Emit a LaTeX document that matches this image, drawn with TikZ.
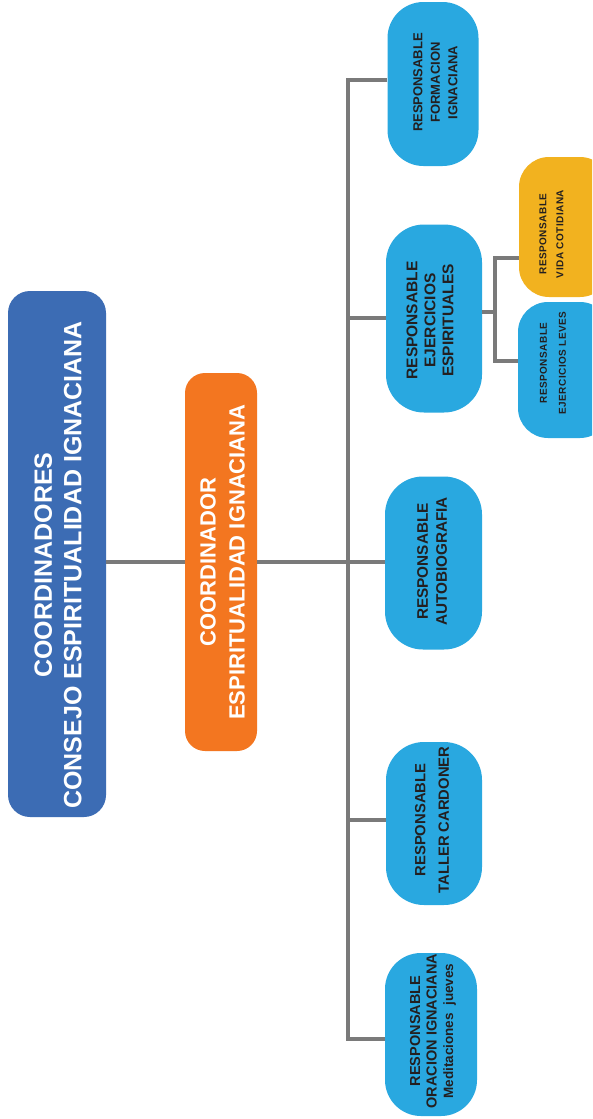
\documentclass[tikz,border=0pt]{standalone}
\usepackage{fontspec}
\setmainfont{Liberation Sans}
\definecolor{cblue}{HTML}{3C6CB4}
\definecolor{corange}{HTML}{F37620}
\definecolor{clight}{HTML}{29A8E0}
\definecolor{cyellow}{HTML}{F2B21F}
\definecolor{linegray}{HTML}{7A7A7A}
\definecolor{dtext}{HTML}{231F20}
\begin{document}
\begin{tikzpicture}[x=1pt,y=-1pt,
  box/.style={draw=none, rectangle, inner sep=0pt},
  conn/.style={draw=linegray, line width=3.2pt},
  rtxt/.style={rotate=90, align=center, inner sep=0pt},
  wtxt/.style={rtxt, text=white},
  btxt/.style={rtxt, text=dtext}]
\useasboundingbox (0,0) rectangle (592,1119);
\clip (0,0) rectangle (592,1119);
\fill[white] (0,0) rectangle (592,1119);

% boxes
\node[box, fill=cblue, rounded corners=22pt, minimum width=98pt, minimum height=526pt] (cons) at (57,554) {};
\node[box, fill=corange, rounded corners=20pt, minimum width=72pt, minimum height=378pt] (coord) at (221,562) {};
\node[box, fill=clight, rounded corners=36pt, minimum width=91pt, minimum height=164pt] (form) at (433,84) {};
\node[box, fill=clight, rounded corners=38pt, minimum width=96pt, minimum height=188pt] (ej) at (434,318.5) {};
\node[box, fill=clight, rounded corners=38pt, minimum width=97pt, minimum height=173pt] (auto) at (433.5,563) {};
\node[box, fill=clight, rounded corners=38pt, minimum width=96pt, minimum height=163pt] (taller) at (434,823.5) {};
\node[box, fill=clight, rounded corners=36pt, minimum width=92pt, minimum height=163pt] (orac) at (431,1034.5) {};
\node[box, fill=cyellow, rounded corners=30pt, minimum width=91pt, minimum height=140pt] (vida) at (564.5,227) {};
\node[box, fill=clight, rounded corners=30pt, minimum width=92pt, minimum height=136pt] (leves) at (564,370) {};

% texts
\node[wtxt, font=\bfseries\fontsize{25}{29.5}\selectfont] (consT) at (58,565)
  {COORDINADORES\\CONSEJO ESPIRITUALIDAD IGNACIANA};
\node[wtxt, font=\bfseries\fontsize{22}{29}\selectfont] (coordT) at (222.5,562)
  {COORDINADOR\\ESPIRITUALIDAD IGNACIANA};
\node[btxt, font=\bfseries\fontsize{13}{17.5}\selectfont] (formT) at (435.5,82.5)
  {RESPONSABLE\\FORMACION\\IGNACIANA};
\node[btxt, font=\bfseries\fontsize{15.5}{18}\selectfont] (ejT) at (430,320.5)
  {RESPONSABLE\\EJERCICIOS\\ESPIRITUALES};
\node[btxt, font=\bfseries\fontsize{15.3}{19}\selectfont] (autoT) at (432,561.5)
  {RESPONSABLE\\AUTOBIOGRAFIA};
\node[btxt, font=\bfseries\fontsize{14.8}{23.5}\selectfont] (tallerT) at (432,820)
  {RESPONSABLE\\TALLER CARDONER};
\node[btxt, font=\bfseries\fontsize{14.5}{16.5}\selectfont] (oracT) at (433,1031)
  {RESPONSABLE\\ORACION IGNACIANA\\{\fontsize{13.5}{15}\selectfont Meditaciones\ \ jueves}};
\node[btxt, font=\bfseries\fontsize{10}{17}\selectfont\addfontfeatures{LetterSpace=5}] (vidaT) at (551.5,234)
  {RESPONSABLE\\VIDA COTIDIANA};
\node[btxt, font=\bfseries\fontsize{10}{19}\selectfont\addfontfeatures{LetterSpace=5}] (levesT) at (553,363)
  {RESPONSABLE\\EJERCICIOS LEVES};

% connectors
\coordinate (tTop) at (348,80);
\coordinate (tEj) at (348,318);
\coordinate (tTa) at (348,820);
\coordinate (tBot) at (348,1039);
\coordinate (sE) at (495,312);
\coordinate (sT) at (495,258);
\coordinate (sB) at (495,361);

\draw[conn] (cons.east |- coord.west) -- (coord.west);
\draw[conn] (coord.east) -- (auto.west |- coord.east);
\draw[conn] (tTop -| form.west) -- (tTop) -- (tBot) -- (tBot -| orac.west);
\draw[conn] (tEj) -- (tEj -| ej.west);
\draw[conn] (tTa) -- (tTa -| taller.west);
\draw[conn] (sE -| ej.east) -- (sE);
\draw[conn] (sT -| vida.west) -- (sT) -- (sB) -- (sB -| leves.west);
\end{tikzpicture}
\end{document}
